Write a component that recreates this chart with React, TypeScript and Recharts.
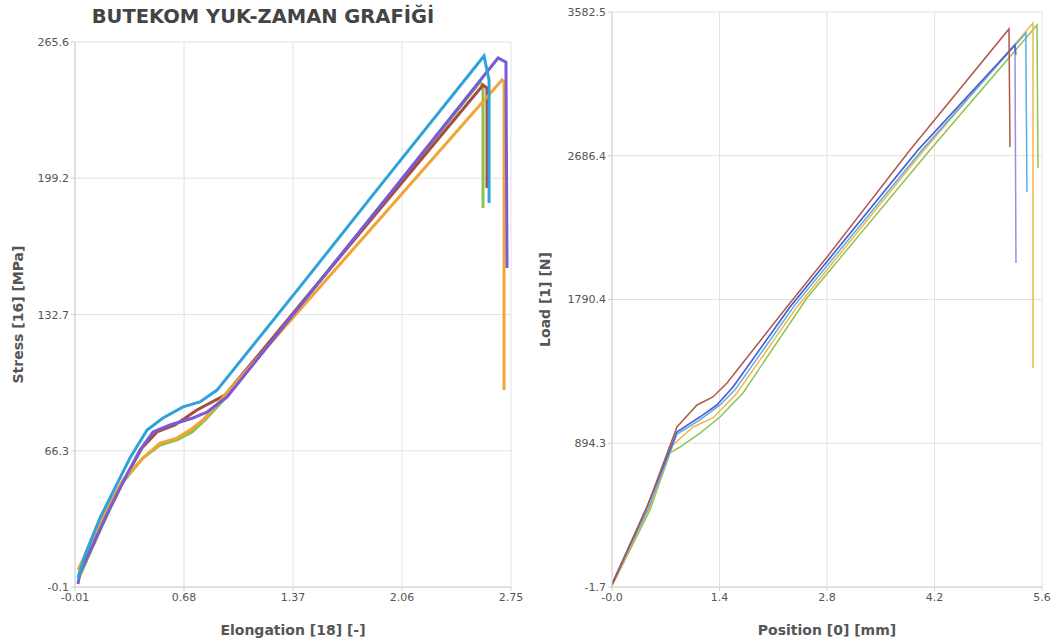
import { LineChart, Line, XAxis, YAxis, CartesianGrid } from "recharts";

// axis ticks
const elongTicks = [-0.01, 0.68, 1.37, 2.06, 2.75];
const stressTicks = [-0.1, 66.3, 132.7, 199.2, 265.6];
const positionTicks = [0, 1.4, 2.8, 4.2, 5.6];
const positionTickLabels = ["-0.0", "1.4", "2.8", "4.2", "5.6"];
const loadTicks = [-1.7, 894.3, 1790.4, 2686.4, 3582.5];

// left chart: stress [MPa] vs elongation, one specimen per pair of arrays
const elongGreen = [0.015, 0.098, 0.193, 0.294, 0.42, 0.528, 0.636, 0.731, 0.813, 0.959, 1.414, 2.079, 2.554, 2.573, 2.573];
const stressGreen = [4.3, 18.9, 35.0, 51.1, 62.8, 69.1, 71.6, 75.5, 81.3, 93.5, 137.4, 200.3, 246.1, 244.1, 184.7];

const elongBrown = [0.015, 0.117, 0.212, 0.307, 0.414, 0.509, 0.623, 0.762, 0.94, 1.414, 2.047, 2.573, 2.598, 2.598];
const stressBrown = [5.8, 22.8, 39.9, 53.0, 67.7, 75.5, 78.9, 86.2, 93.5, 137.4, 195.9, 244.6, 243.2, 194.4];

const elongOrange = [0.009, 0.085, 0.18, 0.294, 0.42, 0.528, 0.636, 0.718, 0.8, 0.952, 1.351, 2.092, 2.693, 2.706, 2.706];
const stressOrange = [8.2, 20.4, 36.5, 52.1, 62.8, 70.1, 72.5, 76.4, 81.3, 94.5, 129.6, 194.4, 247.1, 246.1, 95.9];

const elongPurple = [0.009, 0.022, 0.117, 0.212, 0.307, 0.401, 0.484, 0.591, 0.737, 0.826, 0.952, 1.414, 2.028, 2.668, 2.718, 2.725];
const stressPurple = [1.4, 7.2, 22.8, 38.4, 53.0, 66.7, 75.5, 78.9, 82.3, 85.2, 92.5, 136.9, 195.9, 257.8, 255.8, 155.4];

const elongCyan = [0.009, 0.053, 0.148, 0.243, 0.338, 0.446, 0.547, 0.674, 0.781, 0.889, 1.414, 1.94, 2.579, 2.611, 2.611];
const stressCyan = [4.3, 15.5, 33.5, 48.2, 62.8, 76.4, 82.3, 87.7, 90.1, 95.9, 146.2, 197.3, 258.8, 247.1, 187.1];

// right chart: load [N] vs position [mm]
const posGreen = [0, 0.495, 0.755, 0.886, 1.146, 1.407, 1.706, 2.539, 4.141, 5.535, 5.548];
const loadGreen = [5, 478, 834, 871, 958, 1058, 1208, 1800, 2722, 3501, 2610];

const posOrange = [0, 0.495, 0.794, 1.055, 1.315, 1.628, 2.409, 4.063, 5.483, 5.483];
const loadOrange = [11, 497, 884, 996, 1052, 1208, 1744, 2722, 3514, 1363];

const posLightBlue = [0, 0.482, 0.846, 1.146, 1.407, 1.602, 2.383, 4.037, 5.391, 5.391, 5.404];
const loadLightBlue = [17, 497, 952, 1040, 1133, 1227, 1757, 2722, 3451, 3302, 2460];

const posPurple = [0, 0.456, 0.846, 1.146, 1.367, 1.576, 2.318, 3.985, 5.248, 5.261];
const loadPurple = [17, 497, 965, 1058, 1133, 1245, 1744, 2722, 3377, 2018];

const posBlue = [0, 0.456, 0.846, 1.146, 1.367, 1.576, 2.318, 3.985, 5.248, 5.261];
const loadBlue = [17, 497, 965, 1058, 1133, 1245, 1744, 2722, 3377, 3315];

const posBrown = [0, 0.456, 0.846, 1.107, 1.315, 1.498, 2.318, 2.8, 3.881, 5.17, 5.183];
const loadBrown = [10, 497, 996, 1133, 1183, 1270, 1769, 2055, 2722, 3477, 2741];

const zip = (xs: number[], ys: number[]) => xs.map((x, i) => ({ x, y: ys[i] }));

const stressSeries = [
  { name: "green", color: "#8cc24e", data: zip(elongGreen, stressGreen) },
  { name: "brown", color: "#a84b3f", data: zip(elongBrown, stressBrown) },
  { name: "orange", color: "#f0a535", data: zip(elongOrange, stressOrange) },
  { name: "purple", color: "#7a5ad6", data: zip(elongPurple, stressPurple) },
  { name: "cyan", color: "#2ea3d8", data: zip(elongCyan, stressCyan) },
];

const loadSeries = [
  { name: "green", color: "#8cc552", data: zip(posGreen, loadGreen) },
  { name: "orange", color: "#f3b54c", data: zip(posOrange, loadOrange) },
  { name: "lightblue", color: "#5aaee0", data: zip(posLightBlue, loadLightBlue) },
  { name: "purple", color: "#9a8fdc", data: zip(posPurple, loadPurple) },
  { name: "blue", color: "#4a62d8", data: zip(posBlue, loadBlue) },
  { name: "brown", color: "#b0584b", data: zip(posBrown, loadBrown) },
];

const FONT = "'DejaVu Sans', sans-serif";
const tickStyle = { fontSize: 11, fill: "#555", fontFamily: FONT };
const labelStyle = { fontSize: 14, fontWeight: 700, fill: "#555", fontFamily: FONT };

export default function App() {
  return (
    <div style={{ position: "absolute", left: 0, top: 0, width: 1058, height: 644, background: "#fff" }}>
      <div
        style={{
          position: "absolute",
          left: 0,
          top: 5,
          width: 526,
          textAlign: "center",
          fontFamily: FONT,
          fontWeight: 700,
          fontSize: 19.5,
          color: "#444",
        }}
      >
        BUTEKOM YUK-ZAMAN GRAFİĞİ
      </div>

      <div style={{ position: "absolute", left: 0, top: 0 }}>
        <LineChart width={530} height={644} margin={{ top: 42, right: 19, bottom: 0, left: 0 }}>
          <CartesianGrid stroke="#e2e2e2" />
          <XAxis
            type="number"
            dataKey="x"
            domain={[-0.01, 2.75]}
            ticks={elongTicks}
            allowDataOverflow
            height={57}
            tick={tickStyle}
            tickFormatter={(v: number) => v.toFixed(2)}
            stroke="#d0d0d0"
            tickSize={4}
            label={{ value: "Elongation [18] [-]", position: "insideBottom", offset: 9, style: labelStyle }}
          />
          <YAxis
            type="number"
            dataKey="y"
            domain={[-0.1, 265.6]}
            ticks={stressTicks}
            allowDataOverflow
            width={75}
            tick={tickStyle}
            tickFormatter={(v: number) => v.toFixed(1)}
            stroke="#d0d0d0"
            tickSize={4}
            label={{ value: "Stress [16] [MPa]", angle: -90, position: "center", dx: -19, style: labelStyle }}
          />
          {stressSeries.map((s) => (
            <Line
              key={s.name}
              data={s.data}
              dataKey="y"
              type="linear"
              stroke={s.color}
              strokeWidth={3}
              dot={false}
              isAnimationActive={false}
            />
          ))}
        </LineChart>
      </div>

      <div style={{ position: "absolute", left: 530, top: 0 }}>
        <LineChart width={528} height={644} margin={{ top: 12, right: 16, bottom: 0, left: 0 }}>
          <CartesianGrid stroke="#e2e2e2" />
          <XAxis
            type="number"
            dataKey="x"
            domain={[0, 5.6]}
            ticks={positionTicks}
            allowDataOverflow
            height={57}
            tick={tickStyle}
            tickFormatter={(v: number) => positionTickLabels[positionTicks.indexOf(v)] ?? String(v)}
            stroke="#d0d0d0"
            tickSize={4}
            label={{ value: "Position [0] [mm]", position: "insideBottom", offset: 9, style: labelStyle }}
          />
          <YAxis
            type="number"
            dataKey="y"
            domain={[-1.7, 3582.5]}
            ticks={loadTicks}
            allowDataOverflow
            width={82}
            tick={tickStyle}
            tickFormatter={(v: number) => v.toFixed(1)}
            stroke="#d0d0d0"
            tickSize={4}
            label={{ value: "Load [1] [N]", angle: -90, position: "center", dx: -26, style: labelStyle }}
          />
          {loadSeries.map((s) => (
            <Line
              key={s.name}
              data={s.data}
              dataKey="y"
              type="linear"
              stroke={s.color}
              strokeWidth={1.5}
              dot={false}
              isAnimationActive={false}
            />
          ))}
        </LineChart>
      </div>
    </div>
  );
}
